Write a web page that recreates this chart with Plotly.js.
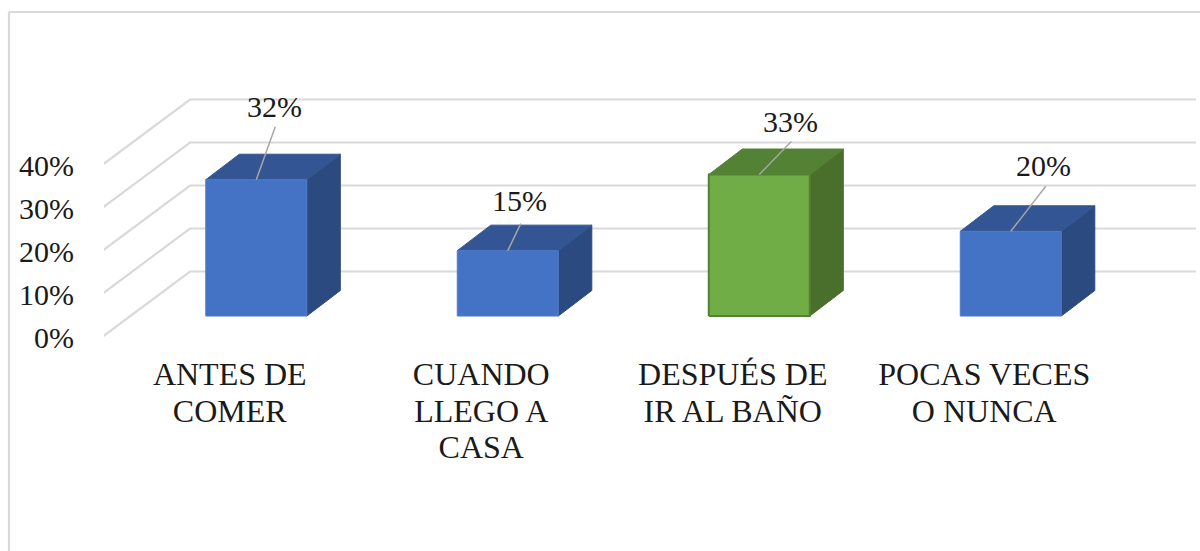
<!DOCTYPE html>
<html>
<head>
<meta charset="utf-8">
<script src="https://cdn.plot.ly/plotly-3.0.1.min.js"></script>
<style>html,body{margin:0;padding:0;background:#fff}#chart{width:1200px;height:551px}</style>
</head>
<body>
<div id="chart"></div>
<script>
// --- data ---
const categories = ["ANTES DE<br>COMER", "CUANDO<br>LLEGO A<br>CASA", "DESPUÉS DE<br>IR AL BAÑO", "POCAS VECES<br>O NUNCA"];
const values = [31.7, 15.2, 32.9, 19.7];
const yTicks = [0, 10, 20, 30, 40];

// --- styles ---
const blue = {front: "#4472c4", top: "#335593", side: "#2b4a80", edge: "#4f7bcb"};
const green = {front: "#70ad47", top: "#548235", side: "#4a6e2c", edge: "#548235"};
const barStyles = [blue, blue, green, blue];
// label and leader-line offsets from the centre of each bar's front-top edge, in pixels
const leaderDx = [19, 13, 32, 35];
const leaderDy = [-53, -27, -33, -45];
const labelDx = [18, 12, 31, 33];
const labelDy = [-73, -50, -53, -66];

// --- oblique projection, in axis units ---
const W = 1200, H = 551;
const mL = 104, mT = 79, mB = 214;
const pxPerCat = 251.5, pxPerPct = 4.3;
const DEPTH_X = 86 / pxPerCat, DEPTH_Y = 65.5 / pxPerPct;
const BAR_W = 101 / pxPerCat, D1 = 0.32, D2 = 0.71, BAR_SHIFT = -1 / pxPerCat;
const xMin = -0.5, xMax = xMin + (W - mL) / pxPerCat;
const yMax = (H - mT - mB) / pxPerPct;
const wallR = categories.length - 0.5 + DEPTH_X;
const wallL = xMin - 2 / pxPerCat;

function P(x, y, d) { return [x + d * DEPTH_X, y + d * DEPTH_Y]; }
function poly(pts, fill, edge, w) {
  return {
    type: "scatter", mode: "lines", x: pts.map(p => p[0]), y: pts.map(p => p[1]),
    fill: "toself", fillcolor: fill, line: {color: edge, width: w},
    hoverinfo: "skip", showlegend: false, cliponaxis: false
  };
}
function line(xs, ys, color, w) {
  return {type: "scatter", mode: "lines", x: xs, y: ys, line: {color: color, width: w},
    hoverinfo: "skip", showlegend: false, cliponaxis: false};
}

const traces = [];
// back wall gridlines and floor/side diagonals
yTicks.forEach(t => {
  const b = P(xMin, t, 1);
  traces.push(line([wallL, b[0], wallR], [t, b[1], b[1]], "#d9d9d9", 2.2));
});
// bars
values.forEach((v, i) => {
  const s = barStyles[i], c = i + BAR_SHIFT, l = c - BAR_W / 2, r = c + BAR_W / 2;
  traces.push(poly([P(r,0,D1),P(r,0,D2),P(r,v,D2),P(r,v,D1),P(r,0,D1)], s.side, s.side, 1));
  traces.push(poly([P(l,v,D1),P(r,v,D1),P(r,v,D2),P(l,v,D2),P(l,v,D1)], s.top, s.top, 1));
  traces.push(poly([P(l,0,D1),P(r,0,D1),P(r,v,D1),P(l,v,D1),P(l,0,D1)], s.front, s.edge, i === 2 ? 2 : 1));
});
// leader lines
values.forEach((v, i) => {
  const a = P(i + BAR_SHIFT, v, D1);
  traces.push(line([a[0], a[0] + leaderDx[i] / pxPerCat], [a[1], a[1] - leaderDy[i] / pxPerPct], "#a6a6a6", 1.5));
});

const font = {family: "'Liberation Serif','Times New Roman',serif", size: 30, color: "#1a1a1a"};
const catFont = {family: font.family, size: 32, color: font.color};

const annotations = values.map((v, i) => {
  const a = P(i + BAR_SHIFT, v, D1);
  return {x: a[0], y: a[1], xref: "x", yref: "y", text: Math.round(v) + "%", showarrow: false,
    xshift: labelDx[i], yshift: -labelDy[i], font: font, xanchor: "center", yanchor: "middle"};
});

const frameColor = "#d9d9d9";
const px = x => (x - mL) / (W - mL);
const py = y => 1 - (y - mT) / (H - mT - mB);
const shapes = [
  {type: "line", xref: "paper", yref: "paper", x0: px(9), x1: px(1200), y0: py(12), y1: py(12), line: {color: frameColor, width: 2.2}},
  {type: "line", xref: "paper", yref: "paper", x0: px(9), x1: px(9), y0: py(12), y1: py(551), line: {color: frameColor, width: 2.2}}
];

const layout = {
  width: W, height: H, autosize: false,
  margin: {l: mL, r: 0, t: mT, b: mB, pad: 0},
  paper_bgcolor: "#ffffff", plot_bgcolor: "#ffffff",
  showlegend: false, font: font,
  xaxis: {range: [xMin, xMax], tickmode: "array", tickvals: categories.map((c, i) => i), ticktext: categories,
    showgrid: false, zeroline: false, showline: false, ticks: "outside", ticklen: 9, tickcolor: "rgba(0,0,0,0)",
    tickangle: 0, tickfont: catFont, fixedrange: true},
  yaxis: {range: [0, yMax], tickmode: "array", tickvals: yTicks, ticktext: yTicks.map(t => t + "%"),
    showgrid: false, zeroline: false, showline: false, ticks: "outside", ticklen: 23, tickcolor: "rgba(0,0,0,0)",
    tickfont: font, fixedrange: true},
  shapes: shapes, annotations: annotations
};
Plotly.newPlot("chart", traces, layout, {displayModeBar: false, staticPlot: true}).then(gd => {
  // the reference sets its category lines tighter than Plotly's default 1.3em
  gd.querySelectorAll(".xtick text tspan.line").forEach(t => {
    const dy = parseFloat(t.getAttribute("dy"));
    if (dy) t.setAttribute("dy", (dy * 1.14 / 1.3) + "em");
  });
});
</script>
</body>
</html>
